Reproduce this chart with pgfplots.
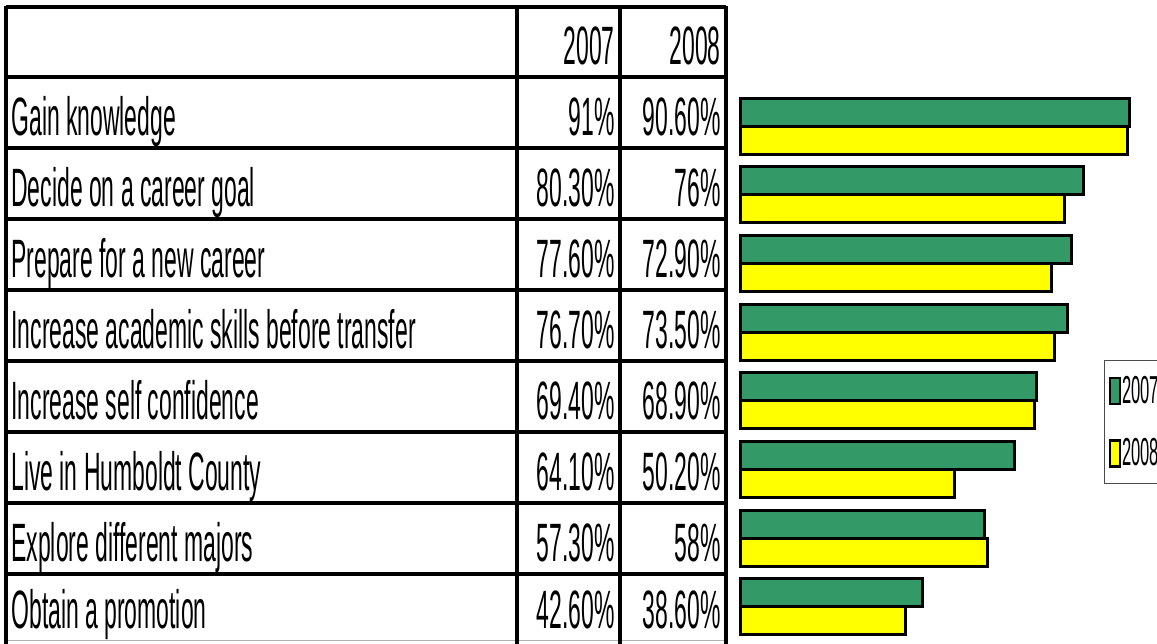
\documentclass[border=0pt]{standalone}
\usepackage{fontspec}
\setmainfont{Liberation Sans}[FakeStretch=0.425]
\usepackage{pgfplots}
\pgfplotsset{compat=1.18}
\definecolor{barGreen}{RGB}{51,153,102}
\definecolor{barYellow}{RGB}{255,255,0}
\begin{document}
\begin{tikzpicture}[x=0.5pt,y=-0.5pt]
\useasboundingbox (0,0) rectangle (1157,643);
\begin{scope}
\clip (0,0) rectangle (1157,643);
% ---- table grid ----
\draw[gray!60, line width=0.5pt] (6,640) -- (726,640);
\foreach \yy in {7,77,148,219,290,361,432,503,574}{
  \draw[black, line width=2.4pt] (6,\yy) -- (726,\yy);
}
\draw[black, line width=2pt] (6,5.8) -- (6,650);
\draw[black, line width=1.6pt] (517,7) -- (517,650);
\draw[black, line width=1.6pt] (620,7) -- (620,650);
\draw[black, line width=2pt] (726,5.8) -- (726,650);
% ---- table text ----
\begin{scope}[every node/.style={inner sep=0pt, font=\fontsize{27pt}{29pt}\selectfont}]
\node[anchor=base east] at (615,64) {2007};
\node[anchor=base east] at (721,64) {2008};
\foreach \lab/\a/\b/\base in {
  Gain knowledge/91\%/90.60\%/135,
  Decide on a career goal/80.30\%/76\%/206,
  Prepare for a new career/77.60\%/72.90\%/277,
  Increase academic skills before transfer/76.70\%/73.50\%/348,
  Increase self confidence/69.40\%/68.90\%/419,
  Live in Humboldt County/64.10\%/50.20\%/490,
  Explore different majors/57.30\%/58\%/561,
  Obtain a promotion/42.60\%/38.60\%/628}{
  \node[anchor=base west] at (11,\base) {\lab};
  \node[anchor=base east] at (615,\base) {\a};
  \node[anchor=base east] at (721,\base) {\b};
}
\end{scope}
% ---- bars ----
\begin{axis}[
  at={(370pt,-45.825pt)}, anchor=north west,
  scale only axis,
  width=203.0625pt, height=274.8pt,
  xmin=0, xmax=95, ymin=-7.5, ymax=0.5,
  hide axis,
  xbar, bar width=14pt,
  clip=false,
  legend image code/.code={\draw[#1, line width=1.1pt] (0pt,-6.5pt) rectangle (5pt,6.5pt);},
  legend style={at={(axis cs:85.15,-3.406)}, anchor=north west,
    draw=black!70, line width=0.6pt, fill=white,
    font=\fontsize{19.5pt}{20pt}\selectfont,
    inner xsep=2pt, inner ysep=7pt, row sep=15pt, column sep=0pt,
    nodes={inner sep=0.6pt}},
  legend cell align=left,
]
\addplot[fill=barGreen, draw=black, line width=1.5pt, bar shift=7pt]
  coordinates {(91,0) (80.3,-1) (77.6,-2) (76.7,-3) (69.4,-4) (64.1,-5) (57.3,-6) (42.6,-7)};
\addplot[fill=barYellow, draw=black, line width=1.5pt, bar shift=-7pt]
  coordinates {(90.6,0) (76,-1) (72.9,-2) (73.5,-3) (68.9,-4) (50.2,-5) (58,-6) (38.6,-7)};
\legend{2007,2008}
\end{axis}
\end{scope}
\end{tikzpicture}
\end{document}
